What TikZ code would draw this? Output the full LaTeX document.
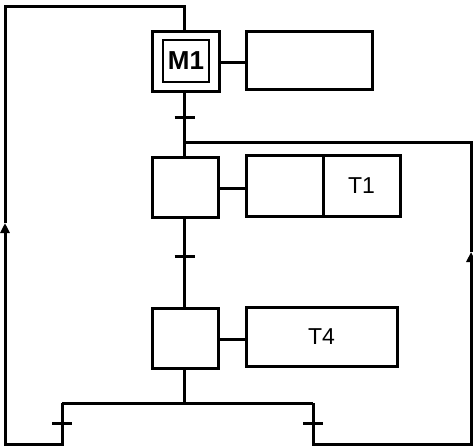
\documentclass[tikz,border=0pt]{standalone}
\usepackage{fontspec}
\setmainfont{Liberation Sans}
\usetikzlibrary{arrows.meta}
\tikzset{
  stp/.style={draw,line width=3pt,minimum width=66pt,minimum height=60pt,inner sep=0pt},
  ini/.style={draw,line width=2.2pt,minimum width=46pt,minimum height=42pt,inner sep=0pt,font=\bfseries\fontsize{26}{28}\selectfont},
  act/.style={draw,line width=3pt,minimum height=59pt,inner sep=0pt,font=\fontsize{23}{25}\selectfont},
  lnk/.style={line width=3pt},
  flw/.style={line width=3pt,-{Triangle[length=10pt,width=9pt]}},
  tck/.style={line width=3pt}
}

\begin{document}
\begin{tikzpicture}[x=1pt,y=-1pt]
\useasboundingbox (0,0) rectangle (473,446);
% steps
\node[stp,minimum width=67pt] (m1) at (185.5,62) {};
\node[ini] (m1i) at (186,61) {M1};
\node[stp,minimum height=59pt] (s2) at (185,187.5) {};
\node[stp] (s3) at (185,338) {};
% actions
\node[act,minimum width=126pt,minimum height=58pt] (a1) at (309,61) {};
\node[act,minimum width=77pt,minimum height=60pt] (a2a) at (284.5,186) {};
\node[act,minimum width=77pt,minimum height=60pt] (a2b) at (361.5,186) {T1};
\node[act,minimum width=151pt] (a3) at (321.5,336.5) {T4};
\draw[lnk] (m1.east |- 0,63) -- (a1.west |- 0,63);
\draw[lnk] (s2.east |- 0,189) -- (a2a.west |- 0,189);
\draw[lnk] (s3.east |- 0,339) -- (a3.west |- 0,339);
% transitions
\coordinate (t1) at (184.5,118);
\coordinate (t2) at (184.5,256);
\coordinate (jn) at (184.5,403);
\coordinate (jl) at (62,403);
\coordinate (jr) at (313,403);
\coordinate (t3) at (62,423);
\coordinate (t4) at (313,423);
\draw[lnk] (m1.south -| t1) -- (s2.north -| t1);
\draw[lnk] (s2.south -| t2) -- (s3.north -| t2);
\draw[lnk] (s3.south -| jn) -- (jn);
\draw[lnk] (jl) -- (jr);
\foreach \t in {t1,t2,t3,t4}
  \draw[tck] ([xshift=-10pt]\t) -- ([xshift=10pt]\t);
% loops
\coordinate (lb) at (62,444);
\coordinate (lc) at (5,444);
\coordinate (al) at (5,223);
\coordinate (lt) at (5,7);
\coordinate (mt) at (184.5,7);
\draw[flw] (jl) -- (lb) -- (lc) -- (al);
\draw[lnk] (al) -- (lt) -- (mt) -- (m1.north -| mt);
\coordinate (rb) at (313,444);
\coordinate (rc) at (471,444);
\coordinate (ar) at (471,252);
\coordinate (rt) at (471,143);
\coordinate (st) at (184.5,143);
\draw[flw] (jr) -- (rb) -- (rc) -- (ar);
\draw[lnk] (ar) -- (rt) -- (st);
\end{tikzpicture}
\end{document}
